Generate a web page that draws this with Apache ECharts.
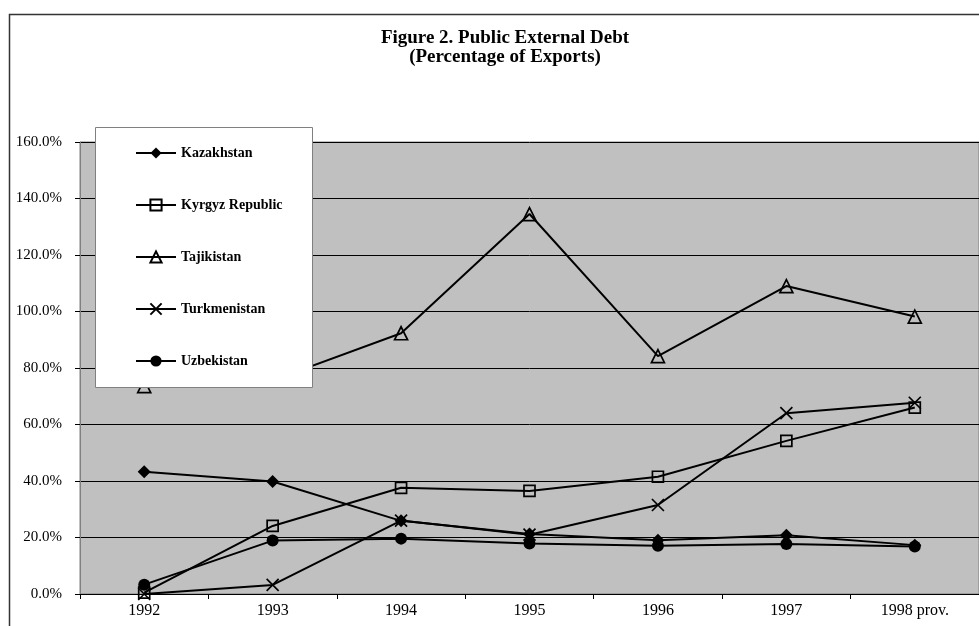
<!DOCTYPE html>
<html>
<head>
<meta charset="utf-8">
<script src="https://cdn.jsdelivr.net/npm/echarts@6/dist/echarts.min.js"></script>
<style>
  html, body { margin: 0; padding: 0; background: #fff; }
  #chart { width: 979px; height: 626px; }
</style>
</head>
<body>
<div id="chart"></div>
<script>
// Public external debt, percentage of exports
var years = ['1992', '1993', '1994', '1995', '1996', '1997', '1998 prov.'];
var kazakhstan   = [43.3, 39.8, 25.9, 21.2, 19.0, 20.8, 17.3];
var kyrgyz       = [0.5, 24.1, 37.6, 36.5, 41.5, 54.2, 66.0];
var tajikistan   = [73.6, 75.6, 92.3, 134.5, 84.2, 109.0, 98.2];
var turkmenistan = [0.0, 3.2, 26.0, 21.0, 31.5, 64.0, 67.7];
var uzbekistan   = [3.3, 18.9, 19.6, 17.9, 17.1, 17.7, 16.8];
var yTicks = { min: 0, max: 160, step: 20 };

var FONT = '"Liberation Serif", "DejaVu Serif", serif';
var crossPath = 'path://M0,0L10,10M10,0L0,10';

function lineSeries(name, data, symbol, size, filled) {
  return {
    name: name,
    type: 'line',
    data: data,
    symbol: symbol,
    symbolSize: size,
    showAllSymbol: true,
    lineStyle: { color: '#000', width: 2 },
    itemStyle: filled
      ? { color: '#000', borderColor: '#000', borderWidth: 0 }
      : { color: 'rgba(0,0,0,0)', borderColor: '#000', borderWidth: 1.7 },
    emphasis: { disabled: true },
    animation: false,
    z: 3
  };
}

var chart = echarts.init(document.getElementById('chart'), null, { renderer: 'canvas' });

chart.setOption({
  backgroundColor: '#fff',
  animation: false,
  title: {
    text: 'Figure 2. Public External Debt\n(Percentage of Exports)',
    left: 500,
    top: 24,
    textAlign: 'center',
    textStyle: {
      fontFamily: FONT,
      fontSize: 19,
      fontWeight: 'bold',
      lineHeight: 19,
      color: '#000'
    }
  },
  graphic: [
    {
      type: 'rect',
      left: 7, top: 12,
      shape: { width: 1000, height: 700 },
      style: { fill: 'none', stroke: '#333', lineWidth: 1.5 },
      z: 1
    },
    {
      type: 'rect',
      left: 95, top: 127,
      shape: { width: 217, height: 260 },
      style: { fill: '#fff', stroke: '#808080', lineWidth: 1 },
      z: 50
    }
  ],
  legend: {
    orient: 'vertical',
    left: 135,
    top: 146,
    padding: 0,
    itemWidth: 40,
    itemHeight: 14,
    itemGap: 38,
    selectedMode: false,
    z: 60,
    textStyle: { fontFamily: FONT, fontSize: 14, fontWeight: 'bold', color: '#000' },
    data: ['Kazakhstan', 'Kyrgyz Republic', 'Tajikistan', 'Turkmenistan', 'Uzbekistan']
  },
  grid: {
    left: 80,
    top: 142,
    width: 915.6,
    height: 452,
    show: true,
    backgroundColor: '#C0C0C0',
    borderColor: '#808080',
    borderWidth: 1
  },
  xAxis: {
    type: 'category',
    data: years,
    boundaryGap: true,
    axisLine: { show: true, lineStyle: { color: '#000', width: 1 } },
    axisTick: { show: true, alignWithLabel: false, length: 5, lineStyle: { color: '#000' } },
    axisLabel: { fontFamily: FONT, fontSize: 16, color: '#000', margin: 9 },
    splitLine: { show: false }
  },
  yAxis: {
    type: 'value',
    min: yTicks.min,
    max: yTicks.max,
    interval: yTicks.step,
    axisLine: { show: true, lineStyle: { color: '#808080', width: 1 } },
    axisTick: { show: true, length: 5, lineStyle: { color: '#000' } },
    axisLabel: {
      fontFamily: FONT, fontSize: 15, color: '#000', margin: 18,
      formatter: function (v) { return v.toFixed(1) + '%'; }
    },
    splitLine: { show: true, lineStyle: { color: '#000', width: 1 } }
  },
  series: [
    lineSeries('Kazakhstan', kazakhstan, 'diamond', 13, true),
    lineSeries('Kyrgyz Republic', kyrgyz, 'rect', 11, false),
    lineSeries('Tajikistan', tajikistan, 'triangle', 13, false),
    lineSeries('Turkmenistan', turkmenistan, crossPath, 12, false),
    lineSeries('Uzbekistan', uzbekistan, 'circle', 12, true)
  ]
});
</script>
</body>
</html>
